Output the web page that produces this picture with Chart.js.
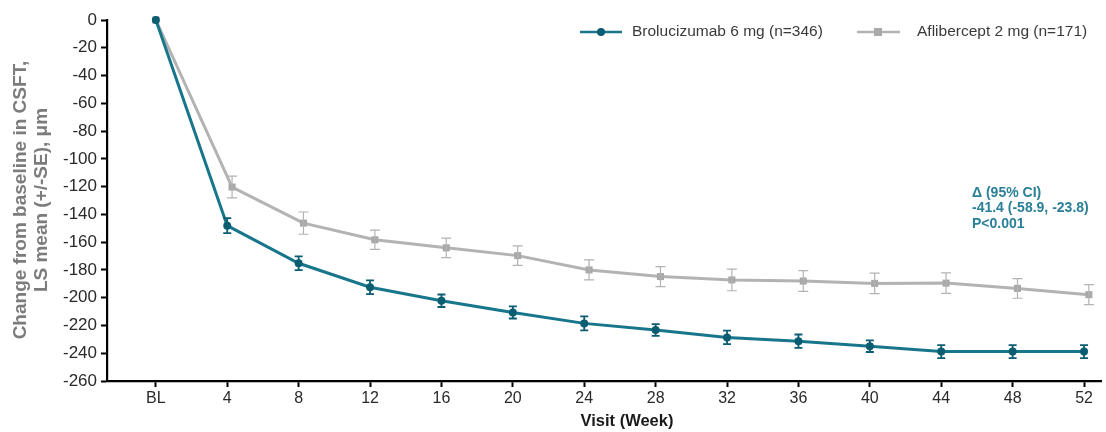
<!DOCTYPE html>
<html>
<head>
<meta charset="utf-8">
<script src="https://cdn.jsdelivr.net/npm/chart.js@4.4.1/dist/chart.umd.min.js"></script>
<style>
  html, body { margin: 0; padding: 0; background: #fff; }
  #wrap { width: 1106px; height: 432px; position: relative; }
</style>
</head>
<body>
<div id="wrap"><canvas id="csft"></canvas></div>
<script>
(function () {
  'use strict';

  // ---- Visits (tick labels) and their week numbers -----------
  var visits = ['BL', '4', '8', '12', '16', '20', '24', '28', '32', '36', '40', '44', '48', '52'];
  var weeks = [0, 4, 8, 12, 16, 20, 24, 28, 32, 36, 40, 44, 48, 52];

  // ---- LS mean change from baseline and SE per arm -----------
  var brolMean = [0, -148.1, -175.2, -192.5, -202.2, -210.6, -218.5, -223.3, -228.6, -231.3, -234.9, -238.8, -238.8, -238.8];
  var brolSE = [0, 5.4, 5.0, 5.0, 4.5, 4.4, 5.0, 4.2, 4.9, 4.8, 4.2, 4.7, 4.7, 4.7];
  var afliMean = [0, -120.3, -146.3, -158.3, -164.1, -169.7, -180.0, -184.8, -187.2, -188.0, -189.7, -189.5, -193.3, -197.8];
  var afliSE = [0, 7.8, 8.0, 6.9, 7.0, 7.0, 7.2, 7.2, 7.8, 7.5, 7.4, 7.4, 7.1, 7.2];

  // ---- Y axis ticks ------------------------------------------
  var yTicks = [0, -20, -40, -60, -80, -100, -120, -140, -160, -180, -200, -220, -240, -260];

  var seriesNames = ['Brolucizumab 6 mg (n=346)', 'Aflibercept 2 mg (n=171)'];
  var statLines = ['\u0394 (95% CI)', '-41.4 (-58.9, -23.8)', 'P<0.001'];

  var TEAL = '#17768b';
  var TEAL_DARK = '#0b5d72';
  var GREY = '#b3b3b3';
  var GREY_DARK = '#a9a9a9';
  var FONT = "'Liberation Sans', Arial, sans-serif";

  // small horizontal dodge so the comparator arm doesn't sit on top
  var DODGE = 0.27;

  function points(mean, shift) {
    return weeks.map(function (w, i) {
      return { x: i === 0 ? w : w + shift, y: mean[i] };
    });
  }

  // ---- Error bars (+/- SE) drawn through the scales ----------
  var errorBars = {
    id: 'errorBars',
    afterDatasetsDraw: function (chart) {
      var ctx = chart.ctx;
      var xs = chart.scales.x;
      var ys = chart.scales.y;
      var sets = [
        { mean: brolMean, se: brolSE, shift: 0, color: TEAL_DARK, width: 1.8, cap: 4 },
        { mean: afliMean, se: afliSE, shift: DODGE, color: GREY, width: 1.2, cap: 5 }
      ];
      ctx.save();
      sets.slice().reverse().forEach(function (s) {
        ctx.strokeStyle = s.color;
        ctx.lineWidth = s.width;
        for (var i = 1; i < weeks.length; i++) {
          var px = xs.getPixelForValue(weeks[i] + s.shift);
          var top = ys.getPixelForValue(s.mean[i] + s.se[i]);
          var bot = ys.getPixelForValue(s.mean[i] - s.se[i]);
          ctx.beginPath();
          ctx.moveTo(px, top); ctx.lineTo(px, bot);
          ctx.moveTo(px - s.cap, top); ctx.lineTo(px + s.cap, top);
          ctx.moveTo(px - s.cap, bot); ctx.lineTo(px + s.cap, bot);
          ctx.stroke();
        }
      });
      ctx.restore();
    }
  };

  // ---- Legend, stats box and axis titles ---------------------
  var decorations = {
    id: 'decorations',
    afterDraw: function (chart) {
      var ctx = chart.ctx;
      ctx.save();

      // legend
      var ly = 32;
      ctx.lineWidth = 2.5;
      ctx.strokeStyle = TEAL;
      ctx.beginPath(); ctx.moveTo(580, ly); ctx.lineTo(622, ly); ctx.stroke();
      ctx.fillStyle = TEAL_DARK;
      ctx.beginPath(); ctx.arc(601, ly, 4, 0, Math.PI * 2); ctx.fill();
      ctx.strokeStyle = GREY;
      ctx.beginPath(); ctx.moveTo(857, ly); ctx.lineTo(900, ly); ctx.stroke();
      ctx.fillStyle = GREY_DARK;
      ctx.fillRect(874, ly - 4, 8, 8);

      ctx.fillStyle = '#3a3a3a';
      ctx.font = '15.5px ' + FONT;
      ctx.textBaseline = 'middle';
      ctx.textAlign = 'left';
      ctx.fillText(seriesNames[0], 632, ly);
      ctx.fillText(seriesNames[1], 917, ly);

      // treatment difference
      ctx.fillStyle = '#2a7f99';
      ctx.font = 'bold 14px ' + FONT;
      ctx.fillText(statLines[0], 972, 193);
      ctx.fillText(statLines[1], 972, 208.5);
      ctx.fillText(statLines[2], 972, 224);

      // x title
      ctx.fillStyle = '#1a1a1a';
      ctx.font = 'bold 16.5px ' + FONT;
      ctx.textAlign = 'center';
      ctx.fillText('Visit (Week)', 627, 421);

      // y title (rotated, two lines)
      ctx.translate(0, 200);
      ctx.rotate(-Math.PI / 2);
      ctx.fillStyle = '#7c7c7c';
      ctx.font = 'bold 19px ' + FONT;
      ctx.fillText('Change from baseline in CSFT,', 0, 21);
      ctx.fillText('LS mean (+/-SE), \u03bcm', 0, 42);

      ctx.restore();
    }
  };

  var ctx = document.getElementById('csft').getContext('2d');
  new Chart(ctx, {
    type: 'line',
    data: {
      datasets: [
        {
          label: seriesNames[0],
          data: points(brolMean, 0),
          borderColor: TEAL,
          backgroundColor: TEAL_DARK,
          borderWidth: 3,
          pointStyle: 'circle',
          pointRadius: 4,
          pointBorderWidth: 0,
          tension: 0,
          clip: false
        },
        {
          label: seriesNames[1],
          data: points(afliMean, DODGE),
          borderColor: GREY,
          backgroundColor: GREY_DARK,
          borderWidth: 3,
          pointStyle: 'rect',
          pointRadius: 5,
          pointBorderWidth: 0,
          tension: 0,
          clip: false
        }
      ]
    },
    options: {
      responsive: true,
      maintainAspectRatio: false,
      animation: false,
      events: [],
      layout: { padding: { top: 20, right: 2, left: 0, bottom: 0 } },
      plugins: {
        legend: { display: false },
        tooltip: { enabled: false }
      },
      scales: {
        x: {
          type: 'linear',
          min: -2.737,
          max: 52.95,
          afterFit: function (scale) { scale.height = 51; },
          afterBuildTicks: function (scale) {
            scale.ticks = weeks.map(function (w) { return { value: w }; });
          },
          border: { display: true, color: '#000', width: 2.2 },
          grid: { display: true, drawOnChartArea: false, drawTicks: true, tickLength: 6, tickColor: '#000', tickWidth: 2 },
          ticks: {
            autoSkip: false,
            maxRotation: 0,
            padding: 2,
            color: '#2a2a2a',
            font: { family: FONT, size: 16 },
            callback: function (v) { return visits[weeks.indexOf(v)]; }
          }
        },
        y: {
          min: -260,
          max: 0,
          afterFit: function (scale) { scale.width = 107; },
          afterBuildTicks: function (scale) {
            scale.ticks = yTicks.map(function (v) { return { value: v }; });
          },
          border: { display: true, color: '#000', width: 2.2 },
          grid: { display: true, drawOnChartArea: false, drawTicks: true, tickLength: 6, tickColor: '#000', tickWidth: 2 },
          ticks: {
            padding: 4,
            color: '#2a2a2a',
            font: { family: FONT, size: 17 }
          }
        }
      }
    },
    plugins: [errorBars, decorations]
  });
})();
</script>
</body>
</html>
